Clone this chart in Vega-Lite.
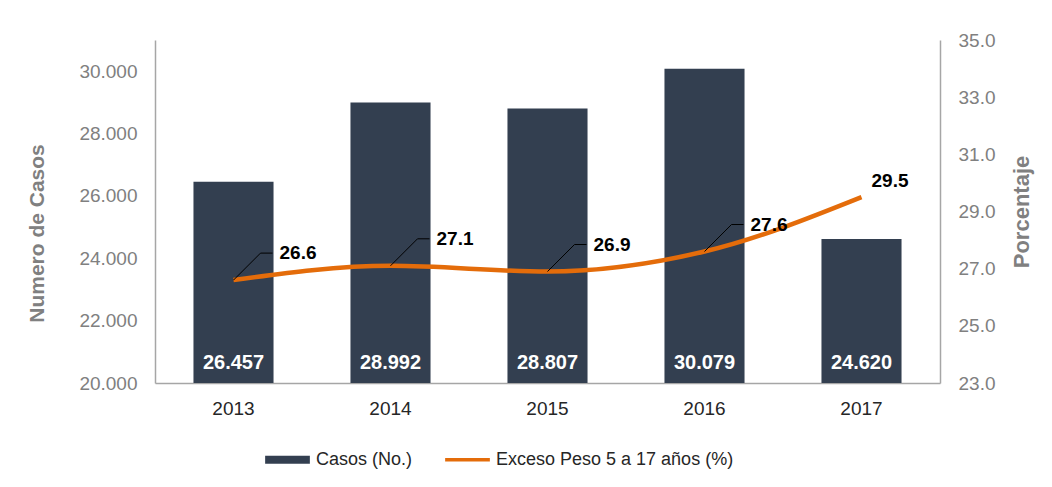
{
  "$schema": "https://vega.github.io/schema/vega-lite/v6.json",
  "width": 785,
  "height": 343,
  "autosize": {"type": "none"},
  "padding": {"left": 155, "top": 40, "right": 112, "bottom": 104},
  "background": "white",
  "config": {
    "view": {"stroke": null},
    "font": "Liberation Sans",
    "locale": {"number": {"decimal": ".", "thousands": ".", "grouping": [3], "currency": ["$", ""]}},
    "axis": {"grid": false, "ticks": false, "domainColor": "#A6A6A6", "domainWidth": 1.5}
  },
  "data": {
    "values": [
      {"anio": "2013", "casos": 26457, "pct": 26.6},
      {"anio": "2014", "casos": 28992, "pct": 27.1},
      {"anio": "2015", "casos": 28807, "pct": 26.9},
      {"anio": "2016", "casos": 30079, "pct": 27.6},
      {"anio": "2017", "casos": 24620, "pct": 29.5}
    ]
  },
  "layer": [
    {
      "layer": [
        {
          "mark": {"type": "bar"},
          "encoding": {
            "x": {
              "field": "anio", "type": "ordinal",
              "scale": {"paddingInner": 0.49, "paddingOuter": 0.245},
              "axis": {"title": null, "labelAngle": 0, "labelFontSize": 19, "labelColor": "#262626", "labelPadding": 16}
            },
            "y": {
              "field": "casos", "type": "quantitative",
              "scale": {"domain": [20000, 31000], "nice": false, "zero": false},
              "axis": {
                "orient": "left", "values": [20000, 22000, 24000, 26000, 28000, 30000], "format": ",d",
                "labelFontSize": 19, "labelColor": "#808080", "labelPadding": 18,
                "title": "Numero de Casos", "titleFontSize": 21, "titleFontWeight": "bold", "titleColor": "#808080",
                "titleX": -118, "titleY": 193, "titleBaseline": "middle"
              }
            },
            "y2": {"datum": 20000},
            "color": {
              "datum": "Casos (No.)",
              "scale": {"domain": ["Casos (No.)", "Exceso Peso 5 a 17 años (%)"], "range": ["#333F50", "#E46C0A"]},
              "legend": {
                "orient": "none", "legendX": 110, "legendY": 397, "direction": "horizontal", "title": null,
                "symbolType": "M-1,-0.18H1V0.18H-1Z", "symbolSize": 2000, "symbolStrokeWidth": 0,
                "labelFontSize": 18, "labelColor": "#262626", "labelLimit": 400, "labelOffset": 6,
                "columnPadding": 32,
                "encode": {"symbols": {"update": {
                  "shape": {"signal": "datum.value === 'Casos (No.)' ? 'M-1,-0.18H1V0.18H-1Z' : 'M-1,-0.08H1V0.08H-1Z'"},
                  "fill": {"scale": "color", "field": "value"},
                  "strokeWidth": {"value": 0}
                }}}
              }
            }
          }
        },
        {
          "mark": {"type": "text", "color": "white", "fontWeight": "bold", "fontSize": 20, "baseline": "middle", "dy": -20},
          "encoding": {
            "x": {"field": "anio", "type": "ordinal"},
            "y": {"datum": 20000},
            "text": {"field": "casos", "type": "quantitative", "format": ",d"}
          }
        }
      ]
    },
    {
      "layer": [
        {
          "mark": {"type": "line", "strokeWidth": 4.5, "interpolate": "monotone"},
          "encoding": {
            "x": {"field": "anio", "type": "ordinal"},
            "y": {
              "field": "pct", "type": "quantitative",
              "scale": {"domain": [23, 35], "nice": false, "zero": false},
              "axis": {
                "orient": "right", "values": [23, 25, 27, 29, 31, 33, 35], "format": ".1f",
                "labelFontSize": 19, "labelColor": "#808080", "labelPadding": 18,
                "title": "Porcentaje", "titleFontSize": 22, "titleFontWeight": "bold", "titleColor": "#808080",
                "titleAngle": 270, "titleX": 81, "titleBaseline": "middle"
              }
            },
            "color": {"datum": "Exceso Peso 5 a 17 años (%)"}
          }
        },
        {
          "transform": [{"filter": "datum.anio !== '2017'"}],
          "mark": {"type": "rule", "color": "black", "strokeWidth": 1, "x2Offset": 27, "y2Offset": -27},
          "encoding": {
            "x": {"field": "anio", "type": "ordinal", "bandPosition": 0.5},
            "x2": {"field": "anio", "bandPosition": 0.5},
            "y": {"field": "pct", "type": "quantitative"},
            "y2": {"field": "pct"}
          }
        },
        {
          "transform": [{"filter": "datum.anio !== '2017'"}],
          "mark": {"type": "rule", "color": "black", "strokeWidth": 1, "xOffset": 27, "x2Offset": 39, "yOffset": -27, "y2Offset": -27},
          "encoding": {
            "x": {"field": "anio", "type": "ordinal", "bandPosition": 0.5},
            "x2": {"field": "anio", "bandPosition": 0.5},
            "y": {"field": "pct", "type": "quantitative"},
            "y2": {"field": "pct"}
          }
        },
        {
          "transform": [{"filter": "datum.anio !== '2017'"}],
          "mark": {"type": "text", "color": "black", "fontWeight": "bold", "fontSize": 19, "align": "left", "baseline": "middle", "dx": 46, "dy": -27},
          "encoding": {
            "x": {"field": "anio", "type": "ordinal"},
            "y": {"field": "pct", "type": "quantitative"},
            "text": {"field": "pct", "type": "quantitative", "format": ".1f"}
          }
        },
        {
          "transform": [{"filter": "datum.anio === '2017'"}],
          "mark": {"type": "text", "color": "black", "fontWeight": "bold", "fontSize": 19, "align": "left", "baseline": "middle", "dx": 10, "dy": -16},
          "encoding": {
            "x": {"field": "anio", "type": "ordinal"},
            "y": {"field": "pct", "type": "quantitative"},
            "text": {"field": "pct", "type": "quantitative", "format": ".1f"}
          }
        }
      ]
    }
  ],
  "resolve": {"scale": {"y": "independent"}}
}
